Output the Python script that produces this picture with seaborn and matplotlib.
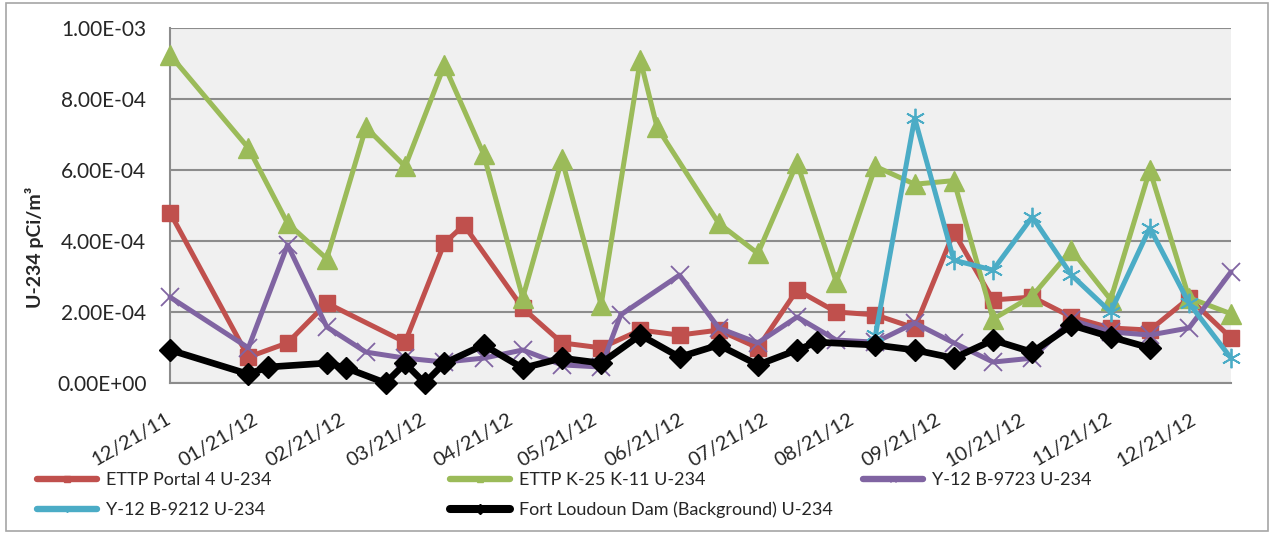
import pandas as pd
import matplotlib
matplotlib.use("Agg")
import matplotlib.pyplot as plt
from matplotlib.lines import Line2D
from matplotlib.patches import Rectangle
import seaborn as sns

# values (pCi/m3)
portal_dates = ["2011-12-21", "2012-01-18", "2012-02-01", "2012-02-15", "2012-03-14", "2012-03-28",
                "2012-04-04", "2012-04-25", "2012-05-09", "2012-05-23", "2012-06-06", "2012-06-20",
                "2012-07-04", "2012-07-18", "2012-08-01", "2012-08-15", "2012-08-29", "2012-09-12",
                "2012-09-26", "2012-10-10", "2012-10-24", "2012-11-07", "2012-11-21", "2012-12-05",
                "2012-12-19", "2013-01-03"]
portal_vals = [4.8e-4, 7.3e-5, 1.13e-4, 2.25e-4, 1.15e-4, 3.94e-4,
               4.45e-4, 2.11e-4, 1.13e-4, 9.9e-5, 1.49e-4, 1.35e-4,
               1.49e-4, 9.9e-5, 2.62e-4, 2.0e-4, 1.92e-4, 1.55e-4,
               4.25e-4, 2.34e-4, 2.42e-4, 1.86e-4, 1.55e-4, 1.49e-4,
               2.39e-4, 1.27e-4]

k25_dates = ["2011-12-21", "2012-01-18", "2012-02-01", "2012-02-15", "2012-02-29", "2012-03-14",
             "2012-03-28", "2012-04-11", "2012-04-25", "2012-05-09", "2012-05-23", "2012-06-06",
             "2012-06-12", "2012-07-04", "2012-07-18", "2012-08-01", "2012-08-15", "2012-08-29",
             "2012-09-12", "2012-09-26", "2012-10-10", "2012-10-24", "2012-11-07", "2012-11-21",
             "2012-12-05", "2012-12-19", "2013-01-03"]
k25_vals = [9.24e-4, 6.62e-4, 4.5e-4, 3.5e-4, 7.2e-4, 6.1e-4,
            8.95e-4, 6.45e-4, 2.4e-4, 6.3e-4, 2.2e-4, 9.1e-4,
            7.2e-4, 4.5e-4, 3.65e-4, 6.2e-4, 2.85e-4, 6.1e-4,
            5.6e-4, 5.7e-4, 1.8e-4, 2.45e-4, 3.75e-4, 2.35e-4,
            6.0e-4, 2.4e-4, 1.95e-4]

b9723_dates = ["2011-12-21", "2012-01-18", "2012-02-01", "2012-02-15", "2012-02-29", "2012-03-14",
               "2012-03-28", "2012-04-11", "2012-04-25", "2012-05-09", "2012-05-23", "2012-05-30",
               "2012-06-20", "2012-07-04", "2012-07-18", "2012-08-01", "2012-08-15", "2012-08-29",
               "2012-09-12", "2012-09-26", "2012-10-10", "2012-10-24", "2012-11-07", "2012-11-21",
               "2012-12-05", "2012-12-19", "2013-01-03"]
b9723_vals = [2.42e-4, 9.9e-5, 3.89e-4, 1.58e-4, 8.7e-5, 7.0e-5,
              5.9e-5, 7.0e-5, 9.3e-5, 5.1e-5, 4.5e-5, 1.92e-4,
              3.04e-4, 1.55e-4, 1.13e-4, 1.86e-4, 1.21e-4, 1.15e-4,
              1.69e-4, 1.13e-4, 5.9e-5, 7.0e-5, 1.77e-4, 1.44e-4,
              1.35e-4, 1.55e-4, 3.13e-4]

b9212_dates = ["2012-08-29", "2012-09-12", "2012-09-26", "2012-10-10", "2012-10-24", "2012-11-07",
               "2012-11-21", "2012-12-05", "2012-12-19", "2013-01-03"]
b9212_vals = [1.35e-4, 7.46e-4, 3.46e-4, 3.18e-4, 4.68e-4, 3.04e-4,
              2.0e-4, 4.37e-4, 2.25e-4, 7.0e-5]

dam_dates = ["2011-12-21", "2012-01-18", "2012-01-25", "2012-02-15", "2012-02-22", "2012-03-07",
             "2012-03-14", "2012-03-21", "2012-03-28", "2012-04-11", "2012-04-25", "2012-05-09",
             "2012-05-23", "2012-06-06", "2012-06-20", "2012-07-04", "2012-07-18", "2012-08-01",
             "2012-08-08", "2012-08-29", "2012-09-12", "2012-09-26", "2012-10-10", "2012-10-24",
             "2012-11-07", "2012-11-21", "2012-12-05"]
dam_vals = [9.3e-5, 2.5e-5, 4.5e-5, 5.6e-5, 4.2e-5, 0.0,
            5.5e-5, 0.0, 5.6e-5, 1.07e-4, 4.2e-5, 7.0e-5,
            5.6e-5, 1.35e-4, 7.3e-5, 1.07e-4, 5.1e-5, 9.3e-5,
            1.15e-4, 1.07e-4, 9.3e-5, 7.0e-5, 1.21e-4, 8.7e-5,
            1.63e-4, 1.3e-4, 9.9e-5]

series_names = ["ETTP Portal 4 U-234", "ETTP K-25 K-11 U-234", "Y-12 B-9723 U-234",
                "Y-12 B-9212 U-234", "Fort Loudoun Dam (Background) U-234"]

sns.set_style("white")
plt.rcParams["font.family"] = ["Lato", "DejaVu Sans"]

fig = plt.figure(figsize=(12.7, 5.33), dpi=100)
ax = fig.add_axes([170 / 1270, 1 - 383 / 533, 1061 / 1270, 355 / 533])
ax.set_facecolor("#F0F0F0")

# name, dates, values, colour, marker, size, line width, edge width
styles = [
    (series_names[0], portal_dates, portal_vals, "#C0504D", "s", 11.5, 3.6, 1.0),
    (series_names[1], k25_dates, k25_vals, "#9BBB59", "^", 14, 3.6, 1.0),
    (series_names[2], b9723_dates, b9723_vals, "#8064A2", "x", 13, 3.6, 1.3),
    (series_names[3], b9212_dates, b9212_vals, "#4BACC6", (6, 2, 0), 14, 3.6, 1.3),
    (series_names[4], dam_dates, dam_vals, "#000000", "D", 11.5, 4.8, 1.0),
]

handles = []
for i, (name, d, v, c, m, ms, lw, mew) in enumerate(styles):
    df = pd.DataFrame({"date": pd.to_datetime(d), "val": v})
    sns.lineplot(data=df, x="date", y="val", ax=ax, color=c, marker=m, markersize=ms,
                 markeredgecolor=c, markerfacecolor=c, markeredgewidth=mew,
                 linewidth=lw, clip_on=False, zorder=3 + i, errorbar=None)
    handles.append(Line2D([], [], color=c, lw=lw + 1, marker=m, markersize=5,
                          markeredgecolor=c, markeredgewidth=1.0, solid_capstyle="round"))

ax.set_xlim(pd.Timestamp("2011-12-21"), pd.Timestamp("2013-01-03"))
ax.set_ylim(0, 1e-3)
yt = [0, 2e-4, 4e-4, 6e-4, 8e-4, 1e-3]
ax.set_yticks(yt)
ax.set_yticklabels(["{:.2E}".format(t) for t in yt], fontsize=15)
xt = pd.date_range("2011-12-21", periods=13, freq=pd.DateOffset(months=1))
ax.set_xticks(xt)
ax.set_xticklabels([t.strftime("%m/%d/%y") for t in xt], fontsize=14.5, rotation=30,
                   ha="right", va="center", rotation_mode="anchor")

ax.yaxis.grid(True, color="#8C8C8C", lw=1.5)
ax.xaxis.grid(False)
ax.set_axisbelow(True)
for s in ["top", "right"]:
    ax.spines[s].set_visible(False)
for s in ["left", "bottom"]:
    ax.spines[s].set_color("#8C8C8C")
    ax.spines[s].set_linewidth(1.5)
ax.tick_params(axis="both", direction="out", length=7, width=1.5, color="#8C8C8C")
ax.tick_params(axis="y", pad=10)
ax.tick_params(axis="x", pad=18)

ax.set_xlabel("")
ax.set_ylabel("U-234 pCi/m³", fontsize=14, fontweight="bold")
ax.yaxis.set_label_coords((44 - 170) / 1061, 0.383)

# legend laid out like the Excel one: 3 equal columns, 2 rows
col_x = [37, 450, 863]
row_y = [480, 510]
for i, h in enumerate(handles):
    r, c = divmod(i, 3)
    fig.legend([h], [series_names[i]], loc="center left",
               bbox_to_anchor=(col_x[c] / 1270, 1 - row_y[r] / 533),
               frameon=False, fontsize=13, handlelength=3.3, handletextpad=0.5,
               borderpad=0, borderaxespad=0)

fig.patches.append(Rectangle((6 / 1270, 2 / 533), 1262 / 1270, 528 / 533,
                             transform=fig.transFigure, fill=False,
                             edgecolor="#A6A6A6", lw=1.2))

fig.savefig("out.png", dpi=100)
